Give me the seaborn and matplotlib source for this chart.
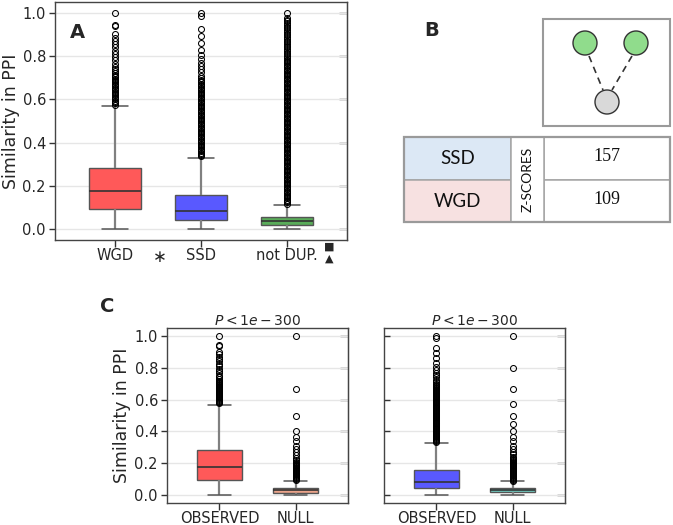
import numpy as np
import pandas as pd
import matplotlib
matplotlib.use("Agg")
import matplotlib.pyplot as plt
import seaborn as sns
from matplotlib.patches import Rectangle, Circle

sns.set_style("white")
plt.rcParams["font.family"] = ["DejaVu Sans"]

# ---------------- data ----------------
a_groups = ["WGD", "SSD", "not DUP."]
a_colors = ["#ff5959", "#5959ff", "#59ac59"]
c_groups = ["OBSERVED", "NULL"]
c1_colors = ["#ff5959", "#eaa38a"]
c2_colors = ["#5959ff", "#70d0c4"]

# five-number summaries: lower whisker, Q1, median, Q3, upper whisker
wgd_box = [0.0, 0.095, 0.178, 0.285, 0.568]
ssd_box = [0.0, 0.043, 0.085, 0.158, 0.33]
notdup_box = [0.0, 0.018, 0.037, 0.056, 0.112]
null_wgd_box = [0.0, 0.015, 0.030, 0.046, 0.088]
null_ssd_box = [0.0, 0.017, 0.031, 0.046, 0.086]

# outliers (fliers)
wgd_out = [1.0, 0.945, 0.937, 0.90, 0.885, 0.87, 0.855, 0.84, 0.825, 0.81,
           0.795, 0.78, 0.765, 0.75, 0.74, 0.73, 0.72, 0.714, 0.708, 0.702,
           0.696, 0.69, 0.684, 0.678, 0.672, 0.666, 0.66, 0.654, 0.648, 0.642,
           0.636, 0.63, 0.624, 0.618, 0.612, 0.606, 0.60, 0.594, 0.588, 0.582,
           0.576]
ssd_out = [1.0, 0.985, 0.925, 0.895, 0.86, 0.83, 0.805, 0.785, 0.77, 0.755,
           0.74, 0.725, 0.71, 0.70, 0.69,
           0.684, 0.678, 0.672, 0.666, 0.660, 0.654, 0.648, 0.642, 0.636, 0.630,
           0.624, 0.618, 0.612, 0.606, 0.600, 0.594, 0.588, 0.582, 0.576, 0.570,
           0.564, 0.558, 0.552, 0.546, 0.540, 0.534, 0.528, 0.522, 0.516, 0.510,
           0.504, 0.498, 0.492, 0.486, 0.480, 0.474, 0.468, 0.462, 0.456, 0.450,
           0.444, 0.438, 0.432, 0.426, 0.420, 0.414, 0.408, 0.402, 0.396, 0.390,
           0.384, 0.378, 0.372, 0.366, 0.360, 0.354, 0.348, 0.342, 0.336]
notdup_out = [1.0, 0.975, 0.968, 0.96, 0.952, 0.944, 0.936, 0.928, 0.92, 0.912,
              0.904, 0.896, 0.888, 0.88, 0.872, 0.864, 0.856, 0.848, 0.84, 0.832,
              0.824, 0.816, 0.808, 0.80, 0.792, 0.784,
              0.778, 0.772, 0.766, 0.760, 0.754, 0.748, 0.742, 0.736, 0.730, 0.724,
              0.718, 0.712, 0.706, 0.700, 0.694, 0.688, 0.682, 0.676, 0.670, 0.664,
              0.658, 0.652, 0.646, 0.640, 0.634, 0.628, 0.622, 0.616, 0.610, 0.604,
              0.598, 0.592, 0.586, 0.580, 0.574, 0.568, 0.562, 0.556, 0.550, 0.544,
              0.538, 0.532, 0.526, 0.520, 0.514, 0.508, 0.502, 0.496, 0.490, 0.484,
              0.478, 0.472, 0.466, 0.460, 0.454, 0.448, 0.442, 0.436, 0.430, 0.424,
              0.418, 0.412, 0.406, 0.400, 0.394, 0.388, 0.382, 0.376, 0.370, 0.364,
              0.358, 0.352, 0.346, 0.340, 0.334, 0.328, 0.322, 0.316, 0.310, 0.304,
              0.298, 0.292, 0.286, 0.280, 0.274, 0.268, 0.262, 0.256, 0.250, 0.244,
              0.238, 0.232, 0.226, 0.220, 0.214, 0.208, 0.202, 0.196, 0.190, 0.184,
              0.178, 0.172, 0.166, 0.160, 0.154, 0.148, 0.142, 0.136, 0.130, 0.124,
              0.118]
null_wgd_out = [1.0, 0.667, 0.5, 0.4, 0.368, 0.337, 0.31, 0.29, 0.27, 0.25,
                0.235, 0.222,
                0.210, 0.204, 0.198, 0.192, 0.186, 0.180, 0.174, 0.168, 0.162, 0.156,
                0.150, 0.144, 0.138, 0.132, 0.126, 0.120, 0.114, 0.108, 0.102, 0.096]
null_ssd_out = [1.0, 0.8, 0.667, 0.571, 0.5, 0.444, 0.4, 0.368, 0.337, 0.31,
                0.29, 0.27, 0.255,
                0.240, 0.234, 0.228, 0.222, 0.216, 0.210, 0.204, 0.198, 0.192, 0.186,
                0.180, 0.174, 0.168, 0.162, 0.156, 0.150, 0.144, 0.138, 0.132, 0.126,
                0.120, 0.114, 0.108, 0.102, 0.096, 0.091]

z_labels = ["SSD", "WGD"]
z_scores = ["157", "109"]
z_cell_colors = ["#dce8f5", "#f7e1e1"]
p_title = r"$P < 1e-300$"
ylab = "Similarity in PPI"
yticks = [0.0, 0.2, 0.4, 0.6, 0.8, 1.0]


def group_values(box, out, k=600):
    # box-defining values weighted so quartiles land on the read summary
    return np.concatenate([np.repeat(box, k), out])


def make_df(groups, boxes, outs):
    vals = [group_values(b, o) for b, o in zip(boxes, outs)]
    return pd.DataFrame({"group": np.repeat(groups, [len(v) for v in vals]),
                         "value": np.concatenate(vals)})


dfA = make_df(a_groups, [wgd_box, ssd_box, notdup_box], [wgd_out, ssd_out, notdup_out])
dfC1 = make_df(c_groups, [wgd_box, null_wgd_box], [wgd_out, null_wgd_out])
dfC2 = make_df(c_groups, [ssd_box, null_ssd_box], [ssd_out, null_ssd_out])

# ---------------- figure ----------------
W, H = 673, 525
fig = plt.figure(figsize=(W / 100, H / 100), dpi=100)


def px_axes(l, t, r, b):
    return fig.add_axes([l / W, 1 - b / H, (r - l) / W, (b - t) / H])


axA = px_axes(55, 2, 347, 240)
axC1 = px_axes(167, 328, 348, 503)
axC2 = px_axes(384, 328, 565, 503)

box_kws = dict(
    saturation=1, width=0.6, legend=False, linewidth=1, linecolor="#555555",
    boxprops=dict(edgecolor="#555555", linewidth=1.0),
    whiskerprops=dict(color="#808080", linewidth=1.6),
    capprops=dict(color="#555555", linewidth=1.1),
    medianprops=dict(color="#333333", linewidth=1.2),
    flierprops=dict(marker="o", markerfacecolor="none", markeredgecolor="black",
                    markersize=4.3, markeredgewidth=0.75),
)


def style(ax, xlim, left_dir="out", show_left_labels=True):
    ax.set_xlim(*xlim)
    ax.set_ylim(-0.05, 1.05)
    ax.set_yticks(yticks)
    ax.set_xlabel("")
    ax.set_ylabel("")
    ax.yaxis.grid(True, color="#e6e6e6", linewidth=1)
    ax.xaxis.grid(False)
    ax.set_axisbelow(True)
    for s in ax.spines.values():
        s.set_color("#444444")
        s.set_linewidth(1.0)
        s.set_visible(True)
    ax.tick_params(axis="x", direction="out", length=5, width=1, color="#333333",
                   labelsize=10.5, bottom=True, top=False, pad=0.5)
    ax.tick_params(axis="y", direction=left_dir, length=4.5, width=1, color="#333333",
                   labelsize=10.5, left=True, right=False, labelleft=show_left_labels,
                   pad=2)
    sec = ax.secondary_yaxis("right")
    sec.set_yticks(yticks)
    sec.tick_params(direction="in", length=5.5, width=1, color="#333333", labelright=False)
    sec.spines["right"].set_color("#444444")


sns.boxplot(data=dfA, x="group", y="value", hue="group", order=a_groups,
            hue_order=a_groups, palette=a_colors, ax=axA, **box_kws)
style(axA, (-0.7, 2.7))
axA.set_ylabel(ylab, fontsize=12.5, labelpad=2)

sns.boxplot(data=dfC1, x="group", y="value", hue="group", order=c_groups,
            hue_order=c_groups, palette=c1_colors, ax=axC1, **box_kws)
style(axC1, (-0.69, 1.69))
axC1.set_ylabel(ylab, fontsize=12.5, labelpad=2.5)
axC1.set_title(p_title, fontsize=10, pad=1.5)

sns.boxplot(data=dfC2, x="group", y="value", hue="group", order=c_groups,
            hue_order=c_groups, palette=c2_colors, ax=axC2, **box_kws)
style(axC2, (-0.69, 1.69), left_dir="in", show_left_labels=False)
axC2.set_title(p_title, fontsize=10, pad=1.5)

# ---------------- overlay (panel B, letters, symbols) ----------------
ov = fig.add_axes([0, 0, 1, 1], zorder=5)
ov.set_xlim(0, W)
ov.set_ylim(H, 0)
ov.axis("off")

# panel letters
ov.text(77, 32, "A", fontsize=14, fontweight="bold", ha="center", va="center")
ov.text(432, 30, "B", fontsize=14, fontweight="bold", ha="center", va="center")
ov.text(107, 306, "C", fontsize=14, fontweight="bold", ha="center", va="center")

# significance marks in panel A
ov.text(160, 257, "\u2217", fontsize=12, ha="center", va="center")
ov.text(329, 247, "\u25A0", fontsize=8, ha="center", va="center")
ov.text(329, 259, "\u25B2", fontsize=8, ha="center", va="center")

# network motif box
ov.add_patch(Rectangle((543, 19), 127, 107, facecolor="white", edgecolor="#9a9a9a", lw=1.5))
ov.plot([589, 603], [56, 90], ls=(0, (4, 3)), color="#333333", lw=1.2)
ov.plot([632, 612], [56, 90], ls=(0, (4, 3)), color="#333333", lw=1.2)
ov.add_patch(Circle((585, 43), 12, facecolor="#90dc8c", edgecolor="#333333", lw=1))
ov.add_patch(Circle((636, 43), 12, facecolor="#90dc8c", edgecolor="#333333", lw=1))
ov.add_patch(Circle((607, 102), 12, facecolor="#d9d9d9", edgecolor="#333333", lw=1))

# z-score table
tl, tt, tr, tb = 404, 137, 670, 222
c1x, c2x = 511, 544
mid = (tt + tb) / 2
for i, (lab, val, col) in enumerate(zip(z_labels, z_scores, z_cell_colors)):
    y0 = tt + i * (mid - tt)
    ov.add_patch(Rectangle((tl, y0), c1x - tl, mid - tt, facecolor=col,
                           edgecolor="#a5a5a5", lw=1.1))
    ov.add_patch(Rectangle((c2x, y0), tr - c2x, mid - tt, facecolor="white",
                           edgecolor="#a5a5a5", lw=1.1))
    ov.text((tl + c1x) / 2, y0 + (mid - tt) / 2 + 0.5, lab, fontsize=13.5,
            family="Lato", ha="center", va="center", color="#111111")
    ov.text((c2x + tr) / 2, y0 + (mid - tt) / 2 - 1.5, val, fontsize=13,
            family="Liberation Serif", ha="center", va="center", color="#111111")
ov.add_patch(Rectangle((c1x, tt), c2x - c1x, tb - tt, facecolor="white",
                       edgecolor="#a5a5a5", lw=1.1))
ov.text((c1x + c2x) / 2, mid, "Z-SCORES", fontsize=10, family="Lato", rotation=90,
        ha="center", va="center", color="#111111")
ov.add_patch(Rectangle((tl, tt), tr - tl, tb - tt, facecolor="none",
                       edgecolor="#9a9a9a", lw=1.6))

fig.savefig("out.png", dpi=100)
